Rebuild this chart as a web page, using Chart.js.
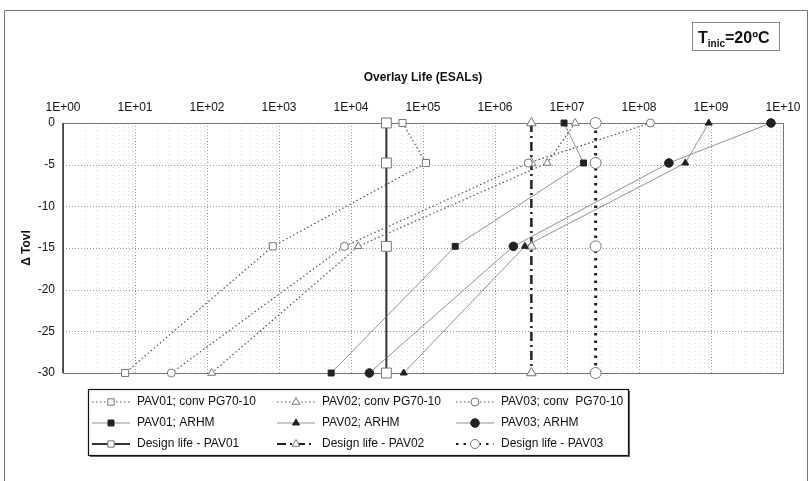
<!DOCTYPE html>
<html>
<head>
<meta charset="utf-8">
<title>Overlay Life</title>
<script src="https://cdn.jsdelivr.net/npm/chart.js@4.4.1/dist/chart.umd.min.js"></script>
<style>
    html, body { margin: 0; padding: 0; background: #fff; }
    #wrap { position: relative; width: 811px; height: 481px; }
</style>
</head>
<body>
<div id="wrap"><canvas id="chart" width="811" height="481"></canvas></div>
<script>
// levels of ΔTovl where every curve has a point (top to bottom)
const levels = [0, -4.8, -14.8, -30];

// overlay life (ESALs) at each level
const pav01Conv = [5.2e4, 1.1e5, 820, 7.3];
const pav02Conv = [1.3e7, 5.3e6, 1.26e4, 116];
const pav03Conv = [1.44e8, 2.9e6, 8100, 32];
const pav01Arhm = [9.1e6, 1.7e7, 2.8e5, 5300];
const pav02Arhm = [9.3e8, 4.4e8, 2.6e6, 5.4e4];
const pav03Arhm = [6.8e9, 2.6e8, 1.8e6, 1.8e4];
const designLife = [3.1e4, 3.2e6, 2.5e7]; // PAV01, PAV02, PAV03

const xTickValues = [1, 10, 100, 1e3, 1e4, 1e5, 1e6, 1e7, 1e8, 1e9, 1e10];
const xTickLabels = ['1E+00', '1E+01', '1E+02', '1E+03', '1E+04', '1E+05', '1E+06', '1E+07', '1E+08', '1E+09', '1E+10'];
const yTickValues = [0, -5, -10, -15, -20, -25, -30];
const yTickLabels = ['0', '-5', '-10', '-15', '-20', '-25', '-30'];

const FONT = '"Liberation Sans", Arial, sans-serif';

const toPoints = (xs) => xs.map((v, i) => ({ x: v, y: levels[i] }));
const vertical = (v) => levels.map((l) => ({ x: v, y: l }));

const openMarker = (style, r) => ({
    pointStyle: style, pointRadius: r, pointHoverRadius: r,
    pointBackgroundColor: '#fff', pointBorderColor: '#777', pointBorderWidth: 1
});
const fullMarker = (style, r) => ({
    pointStyle: style, pointRadius: r, pointHoverRadius: r,
    pointBackgroundColor: '#222', pointBorderColor: '#222', pointBorderWidth: 1
});

let datasets = [
    Object.assign({ label: 'PAV01; conv PG70-10', data: toPoints(pav01Conv),
        borderColor: '#555', borderWidth: 1.2, borderDash: [1.5, 2.5] }, openMarker('rect', 5)),
    Object.assign({ label: 'PAV02; conv PG70-10', data: toPoints(pav02Conv),
        borderColor: '#555', borderWidth: 1.2, borderDash: [1.5, 2.5] }, openMarker('triangle', 4.5)),
    Object.assign({ label: 'PAV03; conv  PG70-10', data: toPoints(pav03Conv),
        borderColor: '#555', borderWidth: 1.2, borderDash: [1.5, 2.5] }, openMarker('circle', 4)),
    Object.assign({ label: 'PAV01; ARHM', data: toPoints(pav01Arhm),
        borderColor: '#777', borderWidth: 0.8 }, fullMarker('rect', 4.2)),
    Object.assign({ label: 'PAV02; ARHM', data: toPoints(pav02Arhm),
        borderColor: '#777', borderWidth: 0.8 }, fullMarker('triangle', 4)),
    Object.assign({ label: 'PAV03; ARHM', data: toPoints(pav03Arhm),
        borderColor: '#777', borderWidth: 0.8 }, fullMarker('circle', 4.3)),
    Object.assign({ label: 'Design life - PAV01', data: vertical(designLife[0]),
        borderColor: '#333', borderWidth: 2 }, openMarker('rect', 7)),
    Object.assign({ label: 'Design life - PAV02', data: vertical(designLife[1]),
        borderColor: '#222', borderWidth: 2.5, borderDash: [9, 4, 2, 4] }, openMarker('triangle', 5.5)),
    Object.assign({ label: 'Design life - PAV03', data: vertical(designLife[2]),
        borderColor: '#222', borderWidth: 3, borderDash: [2.5, 5] }, openMarker('circle', 5.5))
];
datasets.forEach((d) => { d.showLine = true; d.clip = false; d.tension = 0; });

// grid, frame, titles and the 3x3 legend box
const decorPlugin = {
    id: 'decor',
    beforeDatasetsDraw(chart) {
        const { ctx, chartArea: a, scales } = chart;
        const xs = scales.x, ys = scales.y;
        ctx.save();
        ctx.lineWidth = 1;
        // minor vertical lines
        ctx.strokeStyle = '#dadada';
        ctx.setLineDash([1, 3]);
        for (let e = 0; e < 10; e++) {
            for (let m = 2; m < 10; m++) {
                const px = Math.round(xs.getPixelForValue(m * Math.pow(10, e))) + 0.5;
                ctx.beginPath(); ctx.moveTo(px, a.top); ctx.lineTo(px, a.bottom); ctx.stroke();
            }
        }
        // major lines
        ctx.strokeStyle = '#999';
        ctx.setLineDash([1, 2]);
        xTickValues.forEach((v) => {
            const px = Math.round(xs.getPixelForValue(v)) + 0.5;
            ctx.beginPath(); ctx.moveTo(px, a.top); ctx.lineTo(px, a.bottom); ctx.stroke();
        });
        yTickValues.forEach((v) => {
            const py = Math.round(ys.getPixelForValue(v)) + 0.5;
            ctx.beginPath(); ctx.moveTo(a.left, py); ctx.lineTo(a.right, py); ctx.stroke();
        });
        ctx.setLineDash([]);
        ctx.strokeStyle = '#777';
        ctx.strokeRect(a.left + 0.5, a.top + 0.5, a.right - a.left, a.bottom - a.top);
        ctx.strokeStyle = '#333';
        ctx.lineWidth = 1.5;
        ctx.beginPath(); ctx.moveTo(a.left, a.top); ctx.lineTo(a.left, a.bottom); ctx.stroke();
        ctx.restore();
    },
    afterDraw(chart) {
        const { ctx, chartArea: a } = chart;
        ctx.save();
        // outer frame of the figure
        ctx.strokeStyle = '#777';
        ctx.lineWidth = 1;
        ctx.beginPath();
        ctx.moveTo(4.5, 490); ctx.lineTo(4.5, 10.5); ctx.lineTo(807.5, 10.5); ctx.lineTo(807.5, 490);
        ctx.stroke();

        ctx.fillStyle = '#111';
        ctx.font = 'bold 12px ' + FONT;
        ctx.textAlign = 'center';
        ctx.textBaseline = 'middle';
        ctx.fillText('Overlay Life (ESALs)', (a.left + a.right) / 2, 78);

        ctx.save();
        ctx.translate(27, (a.top + a.bottom) / 2);
        ctx.rotate(-Math.PI / 2);
        ctx.fillText('\u0394 Tovl', 0, 0);
        ctx.restore();

        // T inic box
        ctx.strokeStyle = '#888';
        ctx.strokeRect(692.5, 22.5, 87, 28);
        ctx.textAlign = 'left';
        ctx.textBaseline = 'alphabetic';
        ctx.font = 'bold 16px ' + FONT;
        ctx.fillText('T', 698, 43);
        let tx = 698 + ctx.measureText('T').width;
        ctx.font = 'bold 10px ' + FONT;
        ctx.fillText('inic', tx, 47);
        tx += ctx.measureText('inic').width;
        ctx.font = 'bold 16px ' + FONT;
        ctx.fillText('=20\u00baC', tx, 43);

        // legend
        const box = { x: 88, y: 389, w: 540, h: 66 };
        ctx.fillStyle = '#666';
        ctx.fillRect(box.x + 2, box.y + 2, box.w, box.h);
        ctx.fillStyle = '#fff';
        ctx.fillRect(box.x, box.y, box.w, box.h);
        ctx.strokeStyle = '#111';
        ctx.lineWidth = 1.2;
        ctx.strokeRect(box.x + 0.5, box.y + 0.5, box.w, box.h);

        const cols = [92, 277, 456];
        const rows = [402, 423, 444];
        chart.data.datasets.forEach((d, i) => {
            const cx = cols[i % 3], cy = rows[Math.floor(i / 3)];
            ctx.save();
            ctx.strokeStyle = d.borderColor;
            ctx.lineWidth = Math.min(d.borderWidth, 2);
            ctx.setLineDash(d.borderDash || []);
            ctx.beginPath(); ctx.moveTo(cx, cy); ctx.lineTo(cx + 38, cy); ctx.stroke();
            ctx.setLineDash([]);
            ctx.fillStyle = d.pointBackgroundColor;
            ctx.strokeStyle = d.pointBorderColor;
            ctx.lineWidth = d.pointBorderWidth;
            Chart.helpers.drawPoint(ctx, {
                pointStyle: d.pointStyle, rotation: 0,
                radius: Math.min(d.pointRadius, 4.5), borderWidth: d.pointBorderWidth
            }, cx + 19, cy);
            ctx.restore();
            ctx.fillStyle = '#111';
            ctx.font = '12px ' + FONT;
            ctx.textBaseline = 'middle';
            ctx.fillText(d.label, cx + 45, cy);
        });
        ctx.restore();
    }
};

const ctx = document.getElementById('chart').getContext('2d');
const chart = new Chart(ctx, {
    type: 'scatter',
    data: { datasets: datasets },
    options: {
        responsive: false,
        animation: false,
        events: [],
        layout: { padding: { left: 0, top: 0, right: 28, bottom: 108 } },
        plugins: { legend: { display: false }, tooltip: { enabled: false }, title: { display: false } },
        scales: {
            x: {
                type: 'logarithmic',
                position: 'top',
                min: 1,
                max: 1e10,
                grid: { display: false },
                border: { display: false },
                afterBuildTicks: (scale) => { scale.ticks = xTickValues.map((v) => ({ value: v, major: true })); },
                afterFit: (scale) => { scale.height = 123; },
                ticks: {
                    autoSkip: false, maxRotation: 0, padding: 0,
                    color: '#111', font: { family: FONT, size: 12 },
                    callback: (v, i) => xTickLabels[i]
                }
            },
            y: {
                min: -30,
                max: 0,
                grid: { display: false },
                border: { display: false },
                afterBuildTicks: (scale) => { scale.ticks = yTickValues.map((v) => ({ value: v })); },
                afterFit: (scale) => { scale.width = 63; },
                ticks: {
                    padding: 0, color: '#111', font: { family: FONT, size: 12 },
                    callback: (v, i) => yTickLabels[i]
                }
            }
        }
    },
    plugins: [decorPlugin]
});
</script>
</body>
</html>
